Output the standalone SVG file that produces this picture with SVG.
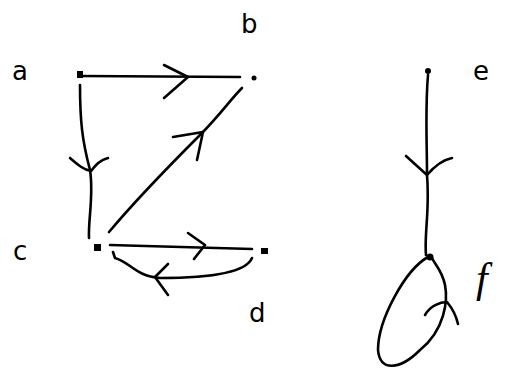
<svg xmlns="http://www.w3.org/2000/svg" width="516" height="372" viewBox="0 0 516 372">
<style>
.e{fill:none;stroke:#000;stroke-width:2.6;stroke-linecap:round;stroke-linejoin:round}
.n{fill:#000}
.l{font-family:"DejaVu Sans","Liberation Sans",sans-serif;font-size:26px;fill:#000}
</style>
<rect width="516" height="372" fill="#fff"/>
<g id="connectors">
<path class="e" d="M82,76 L240,77"/>
<path class="e" d="M164,65 L188,77 L164,98"/>
<path class="e" d="M80,85 C80,120 82,140 90,170 C94,195 88,220 89,238"/>
<path class="e" d="M70,158 C78,165 84,170 91,171 C96,165 100,160 108,158"/>
<path class="e" d="M109,232 C140,195 170,165 200,135 C220,115 230,100 242,88"/>
<path class="e" d="M173,137 L203,132 L197,160"/>
<path class="e" d="M110,245 L252,249"/>
<path class="e" d="M188,233 L205,245 L194,259"/>
<path class="e" d="M252,258 C245,275 200,278 160,278 C135,276 130,262 115,258 L113,252"/>
<path class="e" d="M168,264 L155,277 L168,295"/>
<path class="e" d="M428,75 C425,110 427,140 427,175 C430,210 424,235 426,255"/>
<path class="e" d="M406,156 L427,175 C433,168 442,160 452,158"/>
<path class="e" d="M428,257 C405,270 378,320 378,350 C380,372 400,370 420,350 C445,330 448,300 445,285 C442,270 435,265 432,258"/>
<path class="e" d="M425,315 C430,306 440,302 447,302 C452,308 456,315 458,324"/>
</g>
<g id="a"><rect class="n" x="77" y="71" width="6" height="7"/><text class="l" x="12" y="80">a</text></g>
<g id="b"><circle class="n" cx="254" cy="78" r="2.5"/><text class="l" x="241" y="33">b</text></g>
<g id="c"><rect class="n" x="94" y="244" width="7" height="7"/><text class="l" x="13" y="260">c</text></g>
<g id="d"><rect class="n" x="261" y="248" width="7" height="6"/><text class="l" x="249" y="322">d</text></g>
<g id="e"><circle class="n" cx="428" cy="71" r="3"/><text class="l" x="473" y="80">e</text></g>
<g id="f"><circle class="n" cx="430" cy="257" r="3.5"/><text class="l" x="476" y="292" style="font-family:'Liberation Serif',serif;font-style:italic;font-size:42px">f</text></g>
</svg>
